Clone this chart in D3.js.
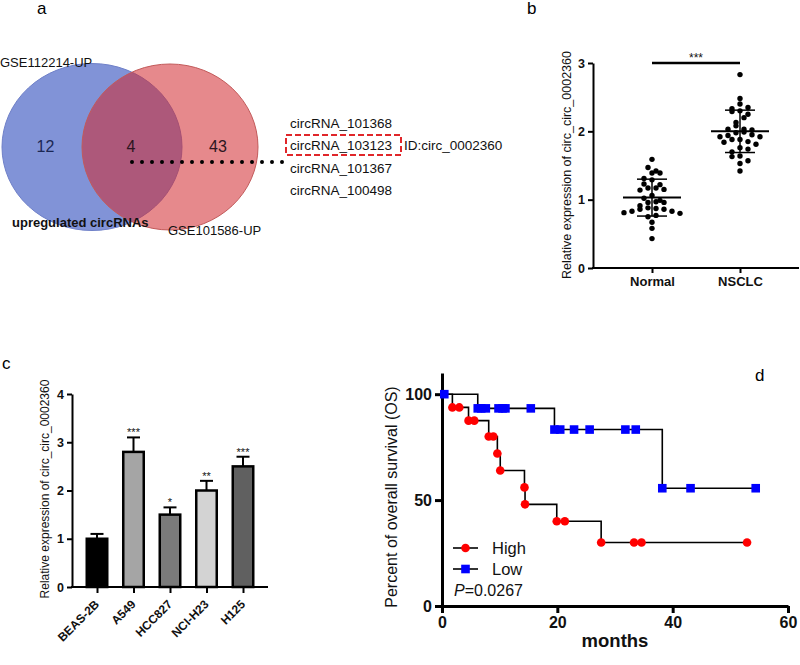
<!DOCTYPE html>
<html><head><meta charset="utf-8">
<script src="https://cdn.jsdelivr.net/npm/d3@7/dist/d3.min.js"></script>
<style>body{margin:0;background:#fff}svg{display:block}text{font-family:"Liberation Sans",Arial,sans-serif}</style>
</head><body><svg id="fig" width="800" height="665"></svg>
<script>
// ---------- Panel a: Venn ----------
const vennSets = ["GSE112214-UP", "GSE101586-UP"];
const vennCounts = [12, 4, 43];            // left only, overlap, right only
const vennCaption = "upregulated circRNAs";
const circNames = ["circRNA_101368", "circRNA_103123", "circRNA_101367", "circRNA_100498"];
const highlighted = "circRNA_103123";
const highlightId = "ID:circ_0002360";

// ---------- Panel b: scatter ----------
const groupsB = ["Normal", "NSCLC"];
const normalVals = [1.59,1.47,1.42,1.39,1.39,1.31,1.29,1.23,1.22,1.14,1.15,1.17,1.17,1.06,1.02,0.99,0.97,0.96,0.96,0.91,0.88,0.86,0.86,0.87,0.83,0.83,0.81,0.80,0.77,0.75,0.67,0.58,0.43];
const nsclcVals = [2.83,2.48,2.40,2.35,2.33,2.30,2.29,2.25,2.20,2.13,2.08,2.03,2.03,2.02,1.99,1.98,1.95,1.94,1.92,1.92,1.88,1.88,1.84,1.85,1.81,1.76,1.74,1.70,1.64,1.63,1.57,1.53,1.42];
const meansB = [1.03, 2.0];
const sdB = [0.27, 0.31];
const ticksB = [0, 1, 2, 3];
const sigB = "***";
const yLabel = "Relative expression of circ_circ_0002360";

// ---------- Panel c: bars ----------
const cellLines = ["BEAS-2B", "A549", "HCC827", "NCI-H23", "H125"];
const cVals = [1.0, 2.8, 1.5, 2.0, 2.5];
const cErr = [0.1, 0.3, 0.15, 0.2, 0.2];
const cStars = ["", "***", "*", "**", "***"];
const cFills = ["#000000", "#a5a5a5", "#7b7b7b", "#d3d3d3", "#606060"];
const ticksC = [0, 1, 2, 3, 4];

// ---------- Panel d: Kaplan-Meier ----------
const highT = [0, 1.8, 3.0, 4.6, 5.6, 8.1, 8.9, 9.6, 10.1, 14.3, 14.4, 19.9, 21.3, 27.6, 33.3, 34.6, 52.9];
const highS = [100, 93.75, 93.75, 87.5, 87.5, 80, 80, 72, 64, 56, 48, 40, 40, 30, 30, 30, 30];
const lowT = [0, 0.4, 6.2, 6.8, 7.6, 9.8, 10.5, 11.0, 15.4, 19.5, 20.5, 22.9, 25.6, 31.8, 33.6, 38.2, 43.1, 54.4];
const lowS = [100, 100, 93.3, 93.3, 93.3, 93.3, 93.3, 93.3, 93.3, 83.3, 83.3, 83.3, 83.3, 83.3, 83.3, 55.6, 55.6, 55.6];
const groupsD = ["High", "Low"];
const pText = "0.0267";
const ticksDx = [0, 20, 40, 60];
const ticksDy = [0, 50, 100];

const svg = d3.select("#fig");
svg.append("rect").attr("width", 800).attr("height", 665).attr("fill", "#fff");
const FONT = '"Liberation Sans", Arial, sans-serif';

function letter(t, x, y) {
  svg.append("text").attr("x", x).attr("y", y).text(t)
    .attr("font-family", '"Liberation Serif","Times New Roman",serif').attr("font-size", 17);
}
letter("a", 37, 14); letter("b", 527, 14); letter("c", 2, 369); letter("d", 755, 381);

// ===== Panel a =====
const gA = svg.append("g");
gA.append("ellipse").attr("cx", 92).attr("cy", 147).attr("rx", 90).attr("ry", 83.5)
  .attr("fill", "#8193d7").attr("stroke", "#6f80c8").attr("stroke-width", 1);
gA.append("ellipse").attr("cx", 170).attr("cy", 147).attr("rx", 88).attr("ry", 83)
  .attr("fill", "rgb(210,40,45)").attr("fill-opacity", 0.55)
  .attr("stroke", "#c25a5a").attr("stroke-width", 1);
gA.append("text").attr("x", 0).attr("y", 67).text(vennSets[0]).attr("font-size", 13).attr("fill", "#111");
gA.append("text").attr("x", 168).attr("y", 235).text(vennSets[1]).attr("font-size", 13).attr("fill", "#111");
gA.append("text").attr("x", 12).attr("y", 227).text(vennCaption).attr("font-size", 13).attr("font-weight", "bold").attr("fill", "#111");
const numX = [45.5, 131, 218];
const numCol = ["#1b2754", "#2c1520", "#2c1520"];
vennCounts.forEach((c, i) => {
  gA.append("text").attr("x", numX[i]).attr("y", 152).attr("text-anchor", "middle")
    .attr("font-size", 16).attr("fill", numCol[i]).text(c);
});
gA.append("line").attr("x1", 132).attr("x2", 283).attr("y1", 162).attr("y2", 162)
  .attr("stroke", "#000").attr("stroke-width", 4).attr("stroke-linecap", "round")
  .attr("stroke-dasharray", "0,10");
circNames.forEach((n, i) => {
  const y = 127.5 + i * 22.5;
  gA.append("text").attr("x", 290).attr("y", y).attr("font-size", 13.5).attr("fill", "#111").text(n);
  if (n === highlighted) {
    gA.append("rect").attr("x", 286).attr("y", y - 15).attr("width", 115).attr("height", 20)
      .attr("fill", "none").attr("stroke", "#e0262a").attr("stroke-width", 2).attr("stroke-dasharray", "6,3");
    gA.append("text").attr("x", 404).attr("y", y).attr("font-size", 13.5).attr("fill", "#111").text(highlightId);
  }
});

// ===== Panel b =====
const gB = svg.append("g");
const yB = d3.scaleLinear().domain([0, 3]).range([268, 63]);
const xB = d3.scalePoint().domain(groupsB).range([652, 740]);
const axYB = gB.append("g").attr("transform", "translate(593,0)")
  .call(d3.axisLeft(yB).tickValues(ticksB).tickSize(5).tickSizeOuter(0).tickPadding(3).tickFormat(d3.format("d")));
axYB.selectAll("path,line").attr("stroke", "#000").attr("stroke-width", 2);
axYB.selectAll("text").attr("font-size", 12.5).attr("font-weight", "bold").attr("font-family", FONT).attr("fill", "#111");
gB.append("line").attr("x1", 592).attr("x2", 799).attr("y1", 268).attr("y2", 268).attr("stroke", "#000").attr("stroke-width", 2);
const axXB = gB.append("g").attr("transform", "translate(0,268)")
  .call(d3.axisBottom(xB).tickSize(5).tickPadding(4));
axXB.select(".domain").remove();
axXB.selectAll("line").attr("stroke", "#000").attr("stroke-width", 2);
axXB.selectAll("text").attr("font-size", 13).attr("font-weight", "bold").attr("font-family", FONT).attr("fill", "#111");
gB.append("text").attr("transform", "translate(571,165) rotate(-90)").attr("text-anchor", "middle")
  .attr("font-size", 12.5).attr("fill", "#111").text(yLabel);

// row-binned scatter layout (GraphPad-like)
function rowSwarm(vals, cx, y, rowH, gap) {
  const sorted = vals.slice().sort((a, b) => b - a);
  const rows = [];
  sorted.forEach(v => {
    const last = rows[rows.length - 1];
    if (last && (last[0] - v) <= rowH) last.push(v); else rows.push([v]);
  });
  const pts = [];
  rows.forEach((row, ri) => {
    const n = row.length;
    // interleave so that neighbouring values alternate sides
    const slots = d3.range(n).map(i => (i - (n - 1) / 2) * gap);
    const order = slots.slice().sort((a, b) => Math.abs(a) - Math.abs(b) || (ri % 2 ? a - b : b - a));
    row.forEach((v, i) => pts.push({ x: cx + order[i], y: y(v) }));
  });
  return pts;
}
[normalVals, nsclcVals].forEach((vals, gi) => {
  const cx = xB(groupsB[gi]);
  const pts = rowSwarm(vals, cx, yB, 0.08, 8);
  gB.selectAll(null).data(pts).enter().append("circle")
    .attr("cx", d => d.x).attr("cy", d => d.y).attr("r", 2.7).attr("fill", "#000");
  const m = meansB[gi], s = sdB[gi];
  gB.append("line").attr("x1", cx - 29).attr("x2", cx + 29).attr("y1", yB(m)).attr("y2", yB(m)).attr("stroke", "#000").attr("stroke-width", 2);
  gB.append("line").attr("x1", cx).attr("x2", cx).attr("y1", yB(m - s)).attr("y2", yB(m + s)).attr("stroke", "#000").attr("stroke-width", 1.5);
  [m - s, m + s].forEach(v => gB.append("line").attr("x1", cx - 15).attr("x2", cx + 15)
    .attr("y1", yB(v)).attr("y2", yB(v)).attr("stroke", "#000").attr("stroke-width", 1.5));
});
gB.append("line").attr("x1", xB(groupsB[0])).attr("x2", xB(groupsB[1])).attr("y1", yB(3)).attr("y2", yB(3))
  .attr("stroke", "#000").attr("stroke-width", 2.5);
gB.append("text").attr("x", (xB(groupsB[0]) + xB(groupsB[1])) / 2).attr("y", yB(3) - 1)
  .attr("text-anchor", "middle").attr("font-size", 12).attr("fill", "#111").text(sigB);

// ===== Panel c =====
const gC = svg.append("g");
const yC = d3.scaleLinear().domain([0, 4]).range([587, 394]);
const xC = d3.scalePoint().domain(cellLines).range([97, 243]);
const axYC = gC.append("g").attr("transform", "translate(72,0)")
  .call(d3.axisLeft(yC).tickValues(ticksC).tickSize(5).tickSizeOuter(0).tickPadding(3).tickFormat(d3.format("d")));
axYC.selectAll("path,line").attr("stroke", "#000").attr("stroke-width", 2);
axYC.selectAll("text").attr("font-size", 12.5).attr("font-weight", "bold").attr("font-family", FONT).attr("fill", "#111");
gC.append("line").attr("x1", 71).attr("x2", 268).attr("y1", 587).attr("y2", 587).attr("stroke", "#000").attr("stroke-width", 2);
const axXC = gC.append("g").attr("transform", "translate(0,587)")
  .call(d3.axisBottom(xC).tickSize(6).tickFormat(""));
axXC.select(".domain").remove();
axXC.selectAll("line").attr("stroke", "#000").attr("stroke-width", 2);
cellLines.forEach((c, i) => {
  const cx = xC(c), top = cVals[i] + cErr[i];
  gC.append("line").attr("x1", cx).attr("x2", cx).attr("y1", yC(cVals[i])).attr("y2", yC(top)).attr("stroke", "#000").attr("stroke-width", 2);
  gC.append("line").attr("x1", cx - 6.5).attr("x2", cx + 6.5).attr("y1", yC(top)).attr("y2", yC(top)).attr("stroke", "#000").attr("stroke-width", 2);
  gC.append("rect").attr("x", cx - 10.25).attr("width", 20.5).attr("y", yC(cVals[i])).attr("height", yC(0) - yC(cVals[i]))
    .attr("fill", cFills[i]).attr("stroke", "#000").attr("stroke-width", 2.5);
  if (cStars[i]) gC.append("text").attr("x", cx).attr("y", yC(top) - 1).attr("text-anchor", "middle")
    .attr("font-size", 11).attr("fill", "#111").text(cStars[i]);
  gC.append("text").attr("transform", `translate(${cx + 3},605) rotate(-45)`).attr("text-anchor", "end")
    .attr("font-size", 12).attr("font-weight", "bold").attr("fill", "#111").text(c);
});
gC.append("text").attr("transform", "translate(49,489) rotate(-90)").attr("text-anchor", "middle")
  .attr("font-size", 12).attr("fill", "#111").text(yLabel);

// ===== Panel d =====
const gD = svg.append("g");
const xD = d3.scaleLinear().domain([0, 60]).range([442, 788]);
const yD = d3.scaleLinear().domain([0, 110]).range([606, 373]);
const axYD = gD.append("g").attr("transform", "translate(442,0)")
  .call(d3.axisLeft(yD).tickValues(ticksDy).tickSize(7).tickSizeOuter(0).tickPadding(3));
const axXD = gD.append("g").attr("transform", "translate(0,606)")
  .call(d3.axisBottom(xD).tickValues(ticksDx).tickSize(7).tickSizeOuter(0).tickPadding(4));
[axYD, axXD].forEach(a => {
  a.selectAll("path,line").attr("stroke", "#000").attr("stroke-width", 3);
  a.selectAll("text").attr("font-size", 16).attr("font-weight", "bold").attr("font-family", FONT).attr("fill", "#111");
});
gD.append("text").attr("x", 615).attr("y", 647).attr("text-anchor", "middle")
  .attr("font-size", 18.5).attr("font-weight", "bold").attr("fill", "#111").text("months");
gD.append("text").attr("transform", "translate(397,497) rotate(-90)").attr("text-anchor", "middle")
  .attr("font-size", 16).attr("fill", "#111").text("Percent of overall survival (OS)");

const line = d3.line().x(d => xD(d[0])).y(d => yD(d[1])).curve(d3.curveStepAfter);
const lowPts = lowT.map((t, i) => [t, lowS[i]]);
const highPts = highT.map((t, i) => [t, highS[i]]);
gD.append("path").attr("d", line(lowPts)).attr("fill", "none").attr("stroke", "#000").attr("stroke-width", 1.6);
gD.append("path").attr("d", line(highPts)).attr("fill", "none").attr("stroke", "#000").attr("stroke-width", 1.6);
gD.selectAll(null).data(highPts.filter(d => d[0] > 0)).enter().append("circle")
  .attr("cx", d => xD(d[0])).attr("cy", d => yD(d[1])).attr("r", 4.3).attr("fill", "#ff0000");
gD.selectAll(null).data(lowPts.filter(d => d[0] > 0)).enter().append("rect")
  .attr("x", d => xD(d[0]) - 4.3).attr("y", d => yD(d[1]) - 4.3).attr("width", 8.6).attr("height", 8.6).attr("fill", "#0000ff");

// legend
groupsD.forEach((g, i) => {
  const y = 548 + i * 21;
  gD.append("line").attr("x1", 453).attr("x2", 478).attr("y1", y).attr("y2", y).attr("stroke", "#000").attr("stroke-width", 1.6);
  if (i === 0) gD.append("circle").attr("cx", 465.5).attr("cy", y).attr("r", 4.3).attr("fill", "#ff0000");
  else gD.append("rect").attr("x", 461.2).attr("y", y - 4.3).attr("width", 8.6).attr("height", 8.6).attr("fill", "#0000ff");
  gD.append("text").attr("x", 492).attr("y", y + 6).attr("font-size", 16.5).attr("fill", "#111").text(g);
});
const pt = gD.append("text").attr("x", 454).attr("y", 596).attr("font-size", 16).attr("fill", "#111");
pt.append("tspan").attr("font-style", "italic").text("P");
pt.append("tspan").text("=" + pText);
</script></body></html>
